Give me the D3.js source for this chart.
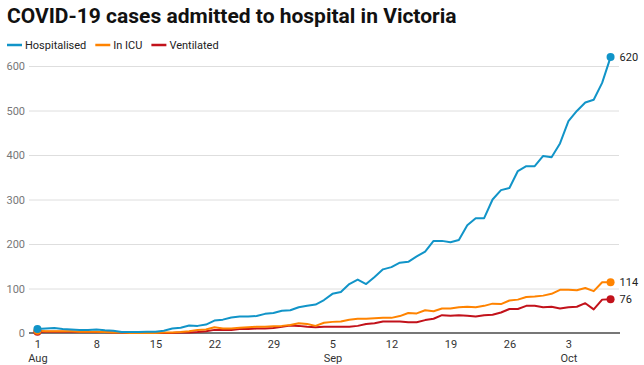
<!DOCTYPE html>
<html>
<head>
<meta charset="utf-8">
<script src="https://cdn.jsdelivr.net/npm/d3@7"></script>
<style>
  body { margin: 0; background: #fff; }
  text { font-family: Roboto, "Noto Sans", sans-serif; }
</style>
</head>
<body>
<div id="chart"></div>
<script>
// daily counts, 1 Aug 2021 -> 8 Oct 2021
const startDate = new Date(2021, 7, 1);
const hospitalised = [9,10,11,9,8,7,7,8,6,5,
  2,2,2,3,3,5,10,12,17,16,
  19,28,30,35,37,37,38,43,45,50,
  51,58,61,64,74,88,92,110,120,110,
  126,143,148,158,160,172,183,207,207,204,
  209,242,258,258,300,321,326,364,375,375,
  398,395,426,476,499,518,524,562,620];
const inICU = [5,4,4,4,4,3,3,3,2,1,
  1,0,0,0,0,1,1,2,4,7,
  8,13,10,10,12,13,14,14,15,16,
  18,22,20,16,23,25,26,30,32,32,
  33,34,34,38,45,44,51,49,55,55,
  58,59,58,61,66,65,73,75,81,82,
  84,88,97,97,96,101,94,114,114];
const ventilated = [3,3,3,3,3,2,2,2,2,1,
  1,0,0,0,0,0,0,1,1,2,
  4,7,7,7,9,9,10,10,11,14,
  17,16,14,13,14,14,14,14,16,20,
  22,26,26,26,24,24,29,32,40,39,
  40,39,37,40,41,46,54,54,61,61,
  58,59,55,58,59,67,53,75,76];
const seriesNames = ["Hospitalised", "In ICU", "Ventilated"];
const seriesColors = ["#1194c8", "#ff8300", "#c2121b"];
const yTicks = [0, 100, 200, 300, 400, 500, 600];

const width = 644, height = 365;
const margin = {top: 66, right: 25, bottom: 32, left: 29};

const svg = d3.select("#chart").append("svg")
  .attr("width", width)
  .attr("height", height);

svg.append("text")
  .attr("x", 7)
  .attr("y", 23)
  .style("font-size", "21px")
  .style("font-weight", "bold")
  .style("fill", "#111")
  .text("COVID-19 cases admitted to hospital in Victoria");

const series = [hospitalised, inICU, ventilated].map((vals, k) => ({
  name: seriesNames[k],
  color: seriesColors[k],
  values: vals.map((v, i) => ({date: d3.timeDay.offset(startDate, i), value: v}))
}));

const lastDate = d3.timeDay.offset(startDate, hospitalised.length - 1);
const x = d3.scaleTime()
  .domain([d3.timeDay.offset(startDate, -1), d3.timeDay.offset(lastDate, 1)])
  .range([margin.left, width - margin.right]);
const y = d3.scaleLinear()
  .domain([0, 600])
  .range([height - margin.bottom, margin.top]);

// legend
const legend = svg.append("g").attr("transform", "translate(7,45)");
let lx = 0;
series.forEach(s => {
  const g = legend.append("g").attr("transform", `translate(${lx},0)`);
  g.append("line").attr("x1", 0).attr("x2", 15)
    .attr("stroke", s.color).attr("stroke-width", 2.5);
  const t = g.append("text").attr("x", 18).attr("dy", "0.35em")
    .style("font-size", "11px").style("fill", "#222").text(s.name);
  lx += 18 + t.node().getComputedTextLength() + 9;
});

// grid + y labels
const yAxis = d3.axisLeft(y).tickValues(yTicks)
  .tickSize(-(width - margin.right - margin.left)).tickPadding(5);
svg.append("g")
  .attr("transform", `translate(${margin.left},0)`)
  .call(yAxis)
  .call(g => g.select(".domain").remove())
  .call(g => g.selectAll(".tick line").attr("stroke", "#dedede"))
  .call(g => g.selectAll(".tick text").style("font-size", "11px").style("fill", "#777").attr("x", -4));

// baseline
svg.append("line")
  .attr("x1", margin.left).attr("x2", width - margin.right + 1)
  .attr("y1", y(0)).attr("y2", y(0))
  .attr("stroke", "#777").attr("stroke-width", 2);

// x axis
const xTicks = d3.timeWeek.range(startDate, d3.timeDay.offset(lastDate, 1));
const xAxis = d3.axisBottom(x).tickValues(xTicks).tickSize(0).tickPadding(7)
  .tickFormat(d3.timeFormat("%-d"));
const xg = svg.append("g")
  .attr("transform", `translate(0,${y(0)})`)
  .call(xAxis)
  .call(g => g.select(".domain").remove());
xg.selectAll(".tick text").style("font-size", "11px").style("fill", "#333");
let prevMonth = -1;
xg.selectAll(".tick").each(function(d) {
  if (d.getMonth() !== prevMonth) {
    prevMonth = d.getMonth();
    d3.select(this).append("text")
      .attr("y", 21).attr("dy", "0.71em")
      .attr("fill", "#333")
      .style("font-size", "11px")
      .text(d3.timeFormat("%b")(d));
  }
});

const line = d3.line()
  .x(d => x(d.date))
  .y(d => y(d.value));

const lines = svg.append("g");
series.slice().reverse().forEach(s => {
  lines.append("path")
    .datum(s.values)
    .attr("fill", "none")
    .attr("stroke", s.color)
    .attr("stroke-width", 2)
    .attr("stroke-linejoin", "round")
    .attr("d", line);
});
series.slice().reverse().forEach(s => {
  const first = s.values[0], last = s.values[s.values.length - 1];
  [first, last].forEach(p => {
    lines.append("circle")
      .attr("cx", x(p.date)).attr("cy", y(p.value)).attr("r", 4)
      .attr("fill", s.color);
  });
  lines.append("text")
    .attr("x", x(last.date) + 9)
    .attr("y", y(last.value))
    .attr("dy", "0.35em")
    .style("font-size", "11px")
    .style("fill", "#222")
    .text(last.value);
});
</script>
</body>
</html>
